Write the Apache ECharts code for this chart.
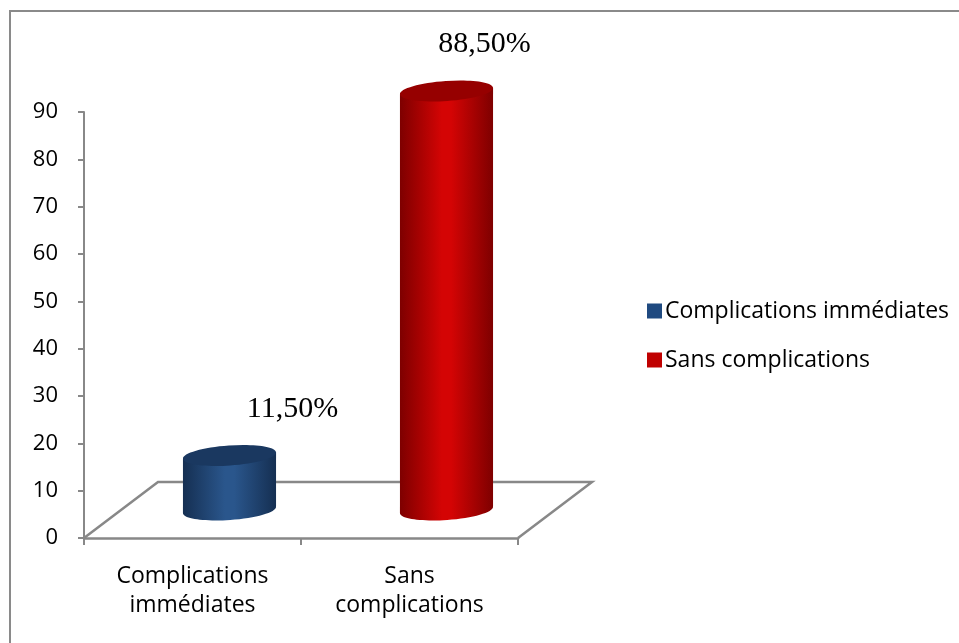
<!DOCTYPE html>
<html>
<head>
<meta charset="utf-8">
<script src="https://cdn.jsdelivr.net/npm/echarts@6/dist/echarts.min.js"></script>
<style>
html,body{margin:0;padding:0;background:#fff;}
#chart{width:959px;height:643px;}
</style>
</head>
<body>
<div id="chart"></div>
<script>
// ---- data ----
const categories = ['Complications\nimmédiates', 'Sans\ncomplications'];
const seriesNames = ['Complications immédiates', 'Sans complications'];
const values = [11.5, 88.5];
const valueLabels = ['11,50%', '88,50%'];
const yMin = 0, yMax = 90, yInterval = 10;

// ---- styles ----
const palettes = [
  {legend: '#1f4a80', edge: '#152f52', mid: '#2a568c', top: '#1a3860'},
  {legend: '#c00000', edge: '#7e0000', mid: '#d40404', top: '#960000'}
];
const labelOffsets = [[63, -46], [38, -47]];
const DEPTH_X = 74, DEPTH_Y = -56;
const TILT = 0.07;
const axisGray = '#888888';
const sans = '"Open Sans", "Noto Sans", sans-serif';

function sideGradient(p) {
  return new echarts.graphic.LinearGradient(0, 0, 1, 0, [
    {offset: 0, color: p.edge},
    {offset: 0.45, color: p.mid},
    {offset: 0.55, color: p.mid},
    {offset: 1, color: p.edge}
  ]);
}

function makeBarSeries(i) {
  const p = palettes[i];
  return {
    name: seriesNames[i],
    type: 'custom',
    z: 3,
    itemStyle: {color: p.legend},
    data: [[i, values[i]]],
    renderItem: function (params, api) {
      const base = api.coord([api.value(0), 0]);
      const top = api.coord([api.value(0), api.value(1)]);
      const band = api.size([1, 0])[0];
      const rx = band * 0.215;
      const ry = 10;
      const cx = base[0] + DEPTH_X / 2;
      const yb = base[1] + DEPTH_Y / 2;
      const yt = top[1] + DEPTH_Y / 2;
      const c = Math.cos(TILT), s = Math.sin(TILT);
      const grad = sideGradient(p);
      return {
        type: 'group',
        children: [
          {type: 'ellipse', shape: {cx: cx, cy: yb, rx: rx, ry: ry}, rotation: TILT, originX: cx, originY: yb,
            style: {fill: grad}},
          {type: 'polygon', shape: {points: [
            [cx - rx * c, yt + rx * s], [cx + rx * c, yt - rx * s],
            [cx + rx * c, yb - rx * s], [cx - rx * c, yb + rx * s]
          ]}, style: {fill: grad}},
          {type: 'ellipse', shape: {cx: cx, cy: yt, rx: rx, ry: ry}, rotation: TILT, originX: cx, originY: yt,
            style: {fill: p.top}},
          {type: 'text', x: cx + labelOffsets[i][0], y: yt + labelOffsets[i][1],
            style: {text: valueLabels[i], fill: '#000', font: '30px "Liberation Serif", "Times New Roman", serif',
              align: 'center', verticalAlign: 'middle'}}
        ]
      };
    }
  };
}

const floorSeries = {
  type: 'custom',
  silent: true,
  z: 1,
  data: [[0, 0]],
  renderItem: function (params, api) {
    const cs = params.coordSys;
    const yb = cs.y + cs.height;
    return {
      type: 'polyline',
      shape: {points: [
        [cs.x, yb],
        [cs.x + DEPTH_X, yb + DEPTH_Y],
        [cs.x + cs.width + DEPTH_X, yb + DEPTH_Y],
        [cs.x + cs.width, yb]
      ]},
      style: {stroke: axisGray, lineWidth: 2.5, fill: null}
    };
  }
};

const chart = echarts.init(document.getElementById('chart'), null, {renderer: 'canvas'});
chart.setOption({
  animation: false,
  backgroundColor: '#fff',
  graphic: [{
    type: 'rect', z: 0, silent: true,
    shape: {x: 10, y: 11, width: 1000, height: 700},
    style: {fill: null, stroke: '#8a8a8a', lineWidth: 2}
  }],
  grid: {left: 84, right: 441, top: 112, bottom: 105, containLabel: false},
  legend: {
    data: seriesNames,
    orient: 'vertical',
    left: 642,
    top: 294,
    itemWidth: 15,
    itemHeight: 15,
    itemGap: 25,
    icon: 'rect',
    textStyle: {fontFamily: sans, fontSize: 23, color: '#000', lineHeight: 24, padding: [0, 0, 0, -2]}
  },
  xAxis: {
    type: 'category',
    data: categories,
    boundaryGap: true,
    axisLine: {lineStyle: {color: axisGray, width: 2.5}},
    axisTick: {show: true, length: 7, lineStyle: {color: axisGray, width: 2}},
    axisLabel: {fontFamily: sans, fontSize: 23, color: '#000', lineHeight: 29, margin: 24, interval: 0}
  },
  yAxis: {
    type: 'value',
    min: yMin, max: yMax, interval: yInterval,
    axisLine: {show: true, lineStyle: {color: axisGray, width: 2}},
    axisTick: {show: true, length: 6, lineStyle: {color: axisGray, width: 2}},
    splitLine: {show: false},
    axisLabel: {fontFamily: sans, fontSize: 22, color: '#000', margin: 26}
  },
  series: [floorSeries, makeBarSeries(0), makeBarSeries(1)]
});
</script>
</body>
</html>
